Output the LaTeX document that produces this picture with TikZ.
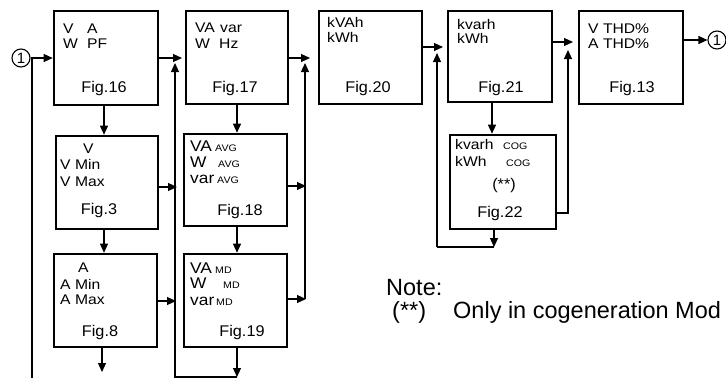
\documentclass[tikz,border=0pt]{standalone}
\usepackage{fontspec}
\setmainfont{Liberation Sans}
\newfontfamily\lblfont[FakeStretch=1.12]{Liberation Sans}
\newfontfamily\figfont[FakeStretch=1.05]{Liberation Sans}
\usetikzlibrary{arrows.meta}
\begin{document}
\begin{tikzpicture}[x=1pt,y=-1pt,
 box/.style={draw, line width=2.6pt, inner sep=0pt},
 conn/.style={line width=1.1pt},
 arr/.style={conn, -{Triangle[length=9pt,width=8pt]}},
 lbl/.style={anchor=base west, inner sep=0pt, font=\lblfont\fontsize{14}{15}\selectfont},
 big/.style={anchor=base west, inner sep=0pt, font=\lblfont\fontsize{15.5}{17}\selectfont},
 sml/.style={anchor=base west, inner sep=0pt, font=\lblfont\fontsize{9.5}{10}\selectfont},
 figl/.style={anchor=base, inner sep=0pt, font=\figfont\fontsize{15.5}{17}\selectfont},
 notel/.style={anchor=base west, inner sep=0pt, font=\fontsize{23.5}{26}\selectfont},
 circ/.style={draw, circle, line width=1.1pt, minimum size=18pt, inner sep=0pt, font=\fontsize{15}{16}\selectfont}]
\useasboundingbox (0,0) rectangle (726,378);

% boxes
\node[box, minimum width=104pt, minimum height=94pt] (f16) at (106,58) {};
\node[box, minimum width=102pt, minimum height=93pt] (f17) at (237,57.5) {};
\node[box, minimum width=103pt, minimum height=93pt] (f20) at (370.5,57.5) {};
\node[box, minimum width=104pt, minimum height=91pt] (f21) at (500,56.5) {};
\node[box, minimum width=104pt, minimum height=93pt] (f13) at (631,57.5) {};
\node[box, minimum width=102pt, minimum height=93pt] (f3) at (107,182.5) {};
\node[box, minimum width=103pt, minimum height=93pt] (f8) at (105.5,300.5) {};
\node[box, minimum width=103pt, minimum height=92pt] (f18) at (235.5,180) {};
\node[box, minimum width=103pt, minimum height=93pt] (f19) at (235.5,300.5) {};
\node[box, minimum width=106pt, minimum height=94pt] (f22) at (503,182) {};

% circles
\node[circ] (c1) at (21,58) {1};
\node[circ] (c2) at (717,40) {1};

% texts
\node[lbl] (t16a) at (63,33) {V};
\node[lbl] (t16b) at (87,33) {A};
\node[lbl] (t16c) at (63,48) {W};
\node[lbl] (t16d) at (87,48) {PF};
\node[figl] (g16) at (104,92) {Fig.16};

\node[lbl] (t17a) at (195,32) {VA};
\node[lbl] (t17b) at (220,32) {var};
\node[lbl] (t17c) at (195,48) {W};
\node[lbl] (t17d) at (219,48) {Hz};
\node[figl] (g17) at (235,92) {Fig.17};

\node[lbl] (t20a) at (327,27) {kVAh};
\node[lbl] (t20b) at (327,42) {kWh};
\node[figl] (g20) at (368,92) {Fig.20};

\node[lbl] (t21a) at (457,29) {kvarh};
\node[lbl] (t21b) at (457,43) {kWh};
\node[figl] (g21) at (501,92) {Fig.21};

\node[lbl] (t13a) at (588,33) {V THD\%};
\node[lbl] (t13b) at (588,48) {A THD\%};
\node[figl] (g13) at (632,92) {Fig.13};

\node[lbl] (t3a) at (83,153) {V};
\node[lbl] (t3b) at (60,169) {V Min};
\node[lbl] (t3c) at (60,186) {V Max};
\node[figl] (g3) at (99,214) {Fig.3};

\node[lbl] (t8a) at (78,272) {A};
\node[lbl] (t8b) at (60,289) {A Min};
\node[lbl] (t8c) at (60,304) {A Max};
\node[figl] (g8) at (100,336) {Fig.8};

\node[big] (t18a) at (190,151) {VA};
\node[sml] (s18a) at (215,151) {AVG};
\node[big] (t18b) at (190,167) {W};
\node[sml] (s18b) at (218,167) {AVG};
\node[big] (t18c) at (190,183) {var};
\node[sml] (s18c) at (217,183) {AVG};
\node[figl] (g18) at (240,215) {Fig.18};

\node[big] (t19a) at (190,273) {VA};
\node[sml] (s19a) at (215,273) {MD};
\node[big] (t19b) at (190,288) {W};
\node[sml] (s19b) at (223,288) {MD};
\node[big] (t19c) at (190,305) {var};
\node[sml] (s19c) at (216,305) {MD};
\node[figl] (g19) at (242,336) {Fig.19};

\node[lbl] (t22a) at (455,149) {kvarh};
\node[sml] (s22a) at (503,149) {COG};
\node[lbl] (t22b) at (455,166) {kWh};
\node[sml] (s22b) at (506,166) {COG};
\node[figl] (t22c) at (504,189) {(**)};
\node[figl] (g22) at (500,217) {Fig.22};

\node[notel] (n1) at (386,295) {Note:};
\node[notel] (n2) at (392,318) {(**)};
\node[notel] (n3) at (453,318) {Only in cogeneration Mod};

% coordinates
\coordinate (l2) at (32,378);
\coordinate (j17) at (182,58);
\coordinate (u17) at (175,63);
\coordinate (b17) at (175,377);
\coordinate (b19) at (237,377);
\coordinate (r3) at (177,187);
\coordinate (r8) at (176,301);
\coordinate (j20) at (310,58);
\coordinate (u20) at (305,63);
\coordinate (v20) at (305,299);
\coordinate (r18) at (306,186);
\coordinate (r19) at (306,299);
\coordinate (j21) at (443,47);
\coordinate (u21) at (437,53);
\coordinate (b22l) at (437,247);
\coordinate (b22) at (494,247);
\coordinate (j13) at (573,42);
\coordinate (u13) at (568,50);
\coordinate (v13) at (568,213);
\coordinate (x1) at (104,0);
\coordinate (d8) at (102,372);
\coordinate (x2) at (237,0);
\coordinate (x4) at (492,0);

% connectors
\draw[arr] (c1.east) -- (f16.west |- c1);
\draw[conn] (c1.east -| l2) -- (l2);
\draw[arr] (f16.east |- j17) -- (j17);
\draw[arr] (b19) -- (b17) -- (u17);
\draw[arr] (f3.east |- r3) -- (r3);
\draw[arr] (f8.east |- r8) -- (r8);
\draw[arr] (x1 |- f16.south) -- (x1 |- f3.north);
\draw[arr] (x1 |- f3.south) -- (x1 |- f8.north);
\draw[arr] (d8 |- f8.south) -- (d8);

\draw[arr] (f17.east |- j20) -- (j20);
\draw[arr] (v20) -- (u20);
\draw[arr] (f18.east |- r18) -- (r18);
\draw[arr] (f19.east |- r19) -- (r19);
\draw[arr] (x2 |- f17.south) -- (x2 |- f18.north);
\draw[arr] (x2 |- f18.south) -- (x2 |- f19.north);
\draw[arr] (b19 |- f19.south) -- (b19);

\draw[arr] (f20.east |- j21) -- (j21);
\draw[arr] (b22l) -- (u21);
\draw[conn] (b22l) -- (b22);
\draw[arr] (b22 |- f22.south) -- (b22);
\draw[arr] (x4 |- f21.south) -- (x4 |- f22.north);

\draw[arr] (f21.east |- j13) -- (j13);
\draw[arr] (f22.east |- v13) -- (v13) -- (u13);
\draw[arr] (f13.east |- c2) -- (c2.west);
\end{tikzpicture}
\end{document}
